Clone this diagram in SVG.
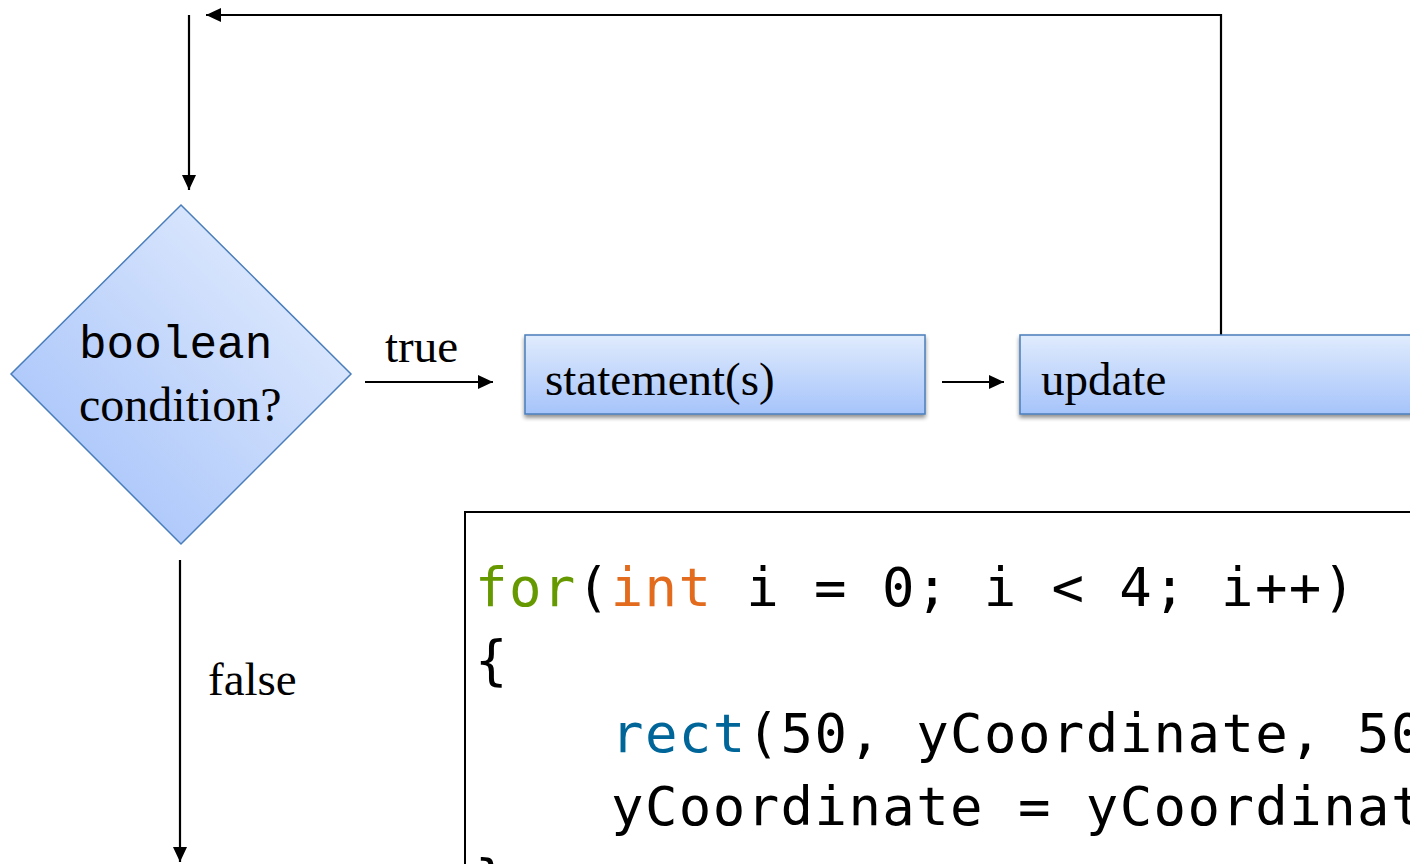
<svg xmlns="http://www.w3.org/2000/svg" width="1410" height="864" viewBox="0 0 1410 864">
<style>
.serif{font-family:"Liberation Serif","Times New Roman",serif;font-size:47px;fill:#000}
.mono{font-family:"Liberation Mono","Courier New",monospace;font-size:46px;fill:#000}
.code{font-family:"DejaVu Sans Mono",monospace;font-size:54px;fill:#000;letter-spacing:1.4px}
.box{fill:url(#gbox);stroke:#4a7ebb;stroke-width:1.5}
.conn{stroke:#000;stroke-width:2.2;fill:none}
</style>
<defs>
<linearGradient id="gbox" x1="0" y1="0" x2="0" y2="1">
<stop offset="0" stop-color="#e0ebfd"/>
<stop offset="1" stop-color="#a6c4fa"/>
</linearGradient>
<linearGradient id="gdia" x1="1" y1="0" x2="0" y2="1">
<stop offset="0" stop-color="#eaf1fd"/>
<stop offset="1" stop-color="#9dbdfa"/>
</linearGradient>
<filter id="sh" x="-10%" y="-10%" width="120%" height="130%">
<feGaussianBlur in="SourceAlpha" stdDeviation="2"/>
<feOffset dx="0" dy="3" result="b"/>
<feComponentTransfer><feFuncA type="linear" slope="0.45"/></feComponentTransfer>
<feMerge><feMergeNode/><feMergeNode in="SourceGraphic"/></feMerge>
</filter>
<marker id="ah" viewBox="0 0 15 14" refX="15" refY="7" markerWidth="15" markerHeight="14" markerUnits="userSpaceOnUse" orient="auto">
<path d="M0,0 L15,7 L0,14 Z" fill="#000"/>
</marker>
</defs>
<rect width="1410" height="864" fill="#fff"/>
<g id="connectors">
<path class="conn" d="M189,15 L189,190" marker-end="url(#ah)"/>
<path class="conn" d="M1221,335 L1221,15 L206,15" marker-end="url(#ah)"/>
<path class="conn" d="M365,382 L493,382" marker-end="url(#ah)"/>
<path class="conn" d="M942,382 L1004,382" marker-end="url(#ah)"/>
<path class="conn" d="M180,560 L180,862" marker-end="url(#ah)"/>
<text class="serif" x="385" y="362">true</text>
<text class="serif" x="208" y="695">false</text>
</g>
<g id="condition">
<polygon points="181,205 351,374 181,544 11,374" fill="url(#gdia)" stroke="#4a7ebb" stroke-width="1.5"/>
<text class="mono" x="79" y="358">boolean</text>
<text class="serif" x="79" y="421" style="font-size:48px">condition?</text>
</g>
<g id="statements">
<rect class="box" x="525" y="335" width="400" height="79" filter="url(#sh)"/>
<text class="serif" x="545" y="395">statement(s)</text>
</g>
<g id="update">
<rect class="box" x="1020" y="335" width="420" height="79" filter="url(#sh)"/>
<text class="serif" x="1041" y="395">update</text>
</g>
<g id="code">
<rect x="465" y="512" width="1000" height="400" fill="#fff" stroke="#000" stroke-width="2"/>
<text class="code" x="475" y="606"><tspan fill="#669900">for</tspan>(<tspan fill="#e26b1e">int</tspan> i = 0; i &lt; 4; i++)</text>
<text class="code" x="475" y="679">{</text>
<text class="code" x="611" y="752"><tspan fill="#006699">rect</tspan>(50, yCoordinate, 50</text>
<text class="code" x="611" y="825">yCoordinate = yCoordinate</text>
<text class="code" x="475" y="898">}</text>
</g>
</svg>
